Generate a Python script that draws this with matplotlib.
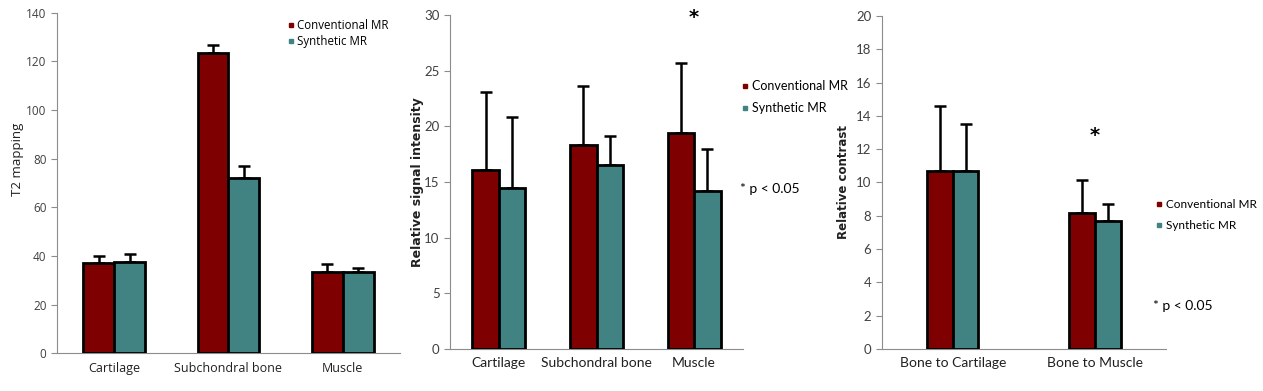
import matplotlib
matplotlib.use("Agg")
import matplotlib.pyplot as plt
from matplotlib.lines import Line2D
import numpy as np

# ---- data ----
t2_cats = ["Cartilage", "Subchondral bone", "Muscle"]
t2_conv = [37.2, 123.3, 33.5]
t2_conv_err = [2.8, 3.3, 3.1]
t2_syn = [37.5, 71.9, 33.5]
t2_syn_err = [3.3, 5.1, 1.4]

si_cats = ["Cartilage", "Subchondral bone", "Muscle"]
si_conv = [16.1, 18.3, 19.4]
si_conv_err = [7.0, 5.3, 6.3]
si_syn = [14.5, 16.5, 14.2]
si_syn_err = [6.3, 2.6, 3.8]

rc_cats = ["Bone to Cartilage", "Bone to Muscle"]
rc_conv = [10.7, 8.15]
rc_conv_err = [3.9, 2.0]
rc_syn = [10.7, 7.7]
rc_syn_err = [2.8, 1.0]

series_names = ["Conventional MR", "Synthetic MR"]

CONV = "#7f0000"
SYN = "#418382"
AXC = "#8c8c8c"
TXT = "#404040"
NARROW = ["Lato", "DejaVu Sans"]

fig = plt.figure(figsize=(12.63, 3.91), dpi=100)


def draw_bars(ax, cats, conv, conv_err, syn, syn_err, width, lw=2.0):
    x = np.arange(len(cats))
    ax.bar(x - width / 2, conv, width, color=CONV, edgecolor="black", linewidth=lw, zorder=3)
    ax.bar(x + width / 2, syn, width, color=SYN, edgecolor="black", linewidth=lw, zorder=3)
    for xs, vals, errs in ((x - width / 2, conv, conv_err), (x + width / 2, syn, syn_err)):
        ax.errorbar(xs, vals, yerr=[np.zeros(len(vals)), errs], fmt="none",
                    ecolor="black", elinewidth=1.8, capsize=4, capthick=1.8, zorder=2)
    ax.set_xlim(-0.5, len(cats) - 0.5)
    ax.set_xticks(x)
    ax.set_xticklabels(cats)
    for s in ("top", "right"):
        ax.spines[s].set_visible(False)
    for s in ("left", "bottom"):
        ax.spines[s].set_color(AXC)
        ax.spines[s].set_linewidth(0.8)
    ax.tick_params(axis="y", colors=AXC, labelcolor=TXT, length=4, width=0.8)
    ax.tick_params(axis="x", length=0, labelcolor="#202020", pad=6)


def legend(ax, anchor, spacing, size, family):
    handles = [Line2D([], [], marker="s", color=c, linestyle="none", markersize=3.5)
               for c in (CONV, SYN)]
    ax.legend(handles, series_names, loc="upper left", bbox_to_anchor=anchor, frameon=False,
              handlelength=0.5, handletextpad=0.3, labelspacing=spacing,
              borderaxespad=0, prop={"family": family, "size": size})


# ---- panel 1: T2 mapping ----
ax1 = fig.add_axes([0.0451, 0.0964, 0.2716, 0.8711])
draw_bars(ax1, t2_cats, t2_conv, t2_conv_err, t2_syn, t2_syn_err, 0.27)
ax1.set_ylim(0, 140)
ax1.set_yticks(range(0, 141, 20))
ax1.set_ylabel("T2 mapping", family="Open Sans", fontsize=9.5, color="#202020", labelpad=2)
ax1.yaxis.set_label_coords(-0.095, 0.57)
for lab in ax1.get_yticklabels():
    lab.set_family("Open Sans")
    lab.set_fontsize(8.5)
for lab in ax1.get_xticklabels():
    lab.set_family("Open Sans")
    lab.set_fontsize(9)
legend(ax1, (0.66, 0.995), 0.25, 8.3, "Open Sans")

# ---- panel 2: relative signal intensity ----
ax2 = fig.add_axes([0.3563, 0.1074, 0.2320, 0.8542])
draw_bars(ax2, si_cats, si_conv, si_conv_err, si_syn, si_syn_err, 0.27)
ax2.set_ylim(0, 30)
ax2.set_yticks(range(0, 31, 5))
ax2.set_ylabel("Relative signal intensity", family="DejaVu Sans", fontweight="bold",
               fontsize=9, color="#202020")
ax2.yaxis.set_label_coords(-0.09, 0.5)
for lab in ax2.get_yticklabels():
    lab.set_family(NARROW)
    lab.set_fontsize(9.5)
for lab in ax2.get_xticklabels():
    lab.set_family(NARROW)
    lab.set_fontsize(10)
ax2.text(2, 29.8, "*", ha="center", va="center", fontsize=14, fontweight="bold",
         family="DejaVu Sans", clip_on=False)
legend(ax2, (0.98, 0.82), 0.8, 9, NARROW)
ax2.text(0.99, 0.48, "* p < 0.05", transform=ax2.transAxes, ha="left", va="center",
         family=NARROW, fontsize=10)

# ---- panel 3: relative contrast ----
ax3 = fig.add_axes([0.6981, 0.1074, 0.2251, 0.8517])
draw_bars(ax3, rc_cats, rc_conv, rc_conv_err, rc_syn, rc_syn_err, 0.18)
ax3.set_ylim(0, 20)
ax3.set_yticks(range(0, 21, 2))
ax3.set_ylabel("Relative contrast", family="DejaVu Sans", fontweight="bold",
               fontsize=8.5, color="#202020")
ax3.yaxis.set_label_coords(-0.11, 0.5)
for lab in ax3.get_yticklabels():
    lab.set_family(NARROW)
    lab.set_fontsize(9.5)
for lab in ax3.get_xticklabels():
    lab.set_family(NARROW)
    lab.set_fontsize(10)
ax3.text(1, 12.85, "*", ha="center", va="center", fontsize=14, fontweight="bold",
         family="DejaVu Sans")
legend(ax3, (0.95, 0.465), 0.85, 8.5, NARROW)
ax3.text(0.955, 0.13, "* p < 0.05", transform=ax3.transAxes, ha="left", va="center",
         family=NARROW, fontsize=10)

fig.savefig("out.png", dpi=100)
